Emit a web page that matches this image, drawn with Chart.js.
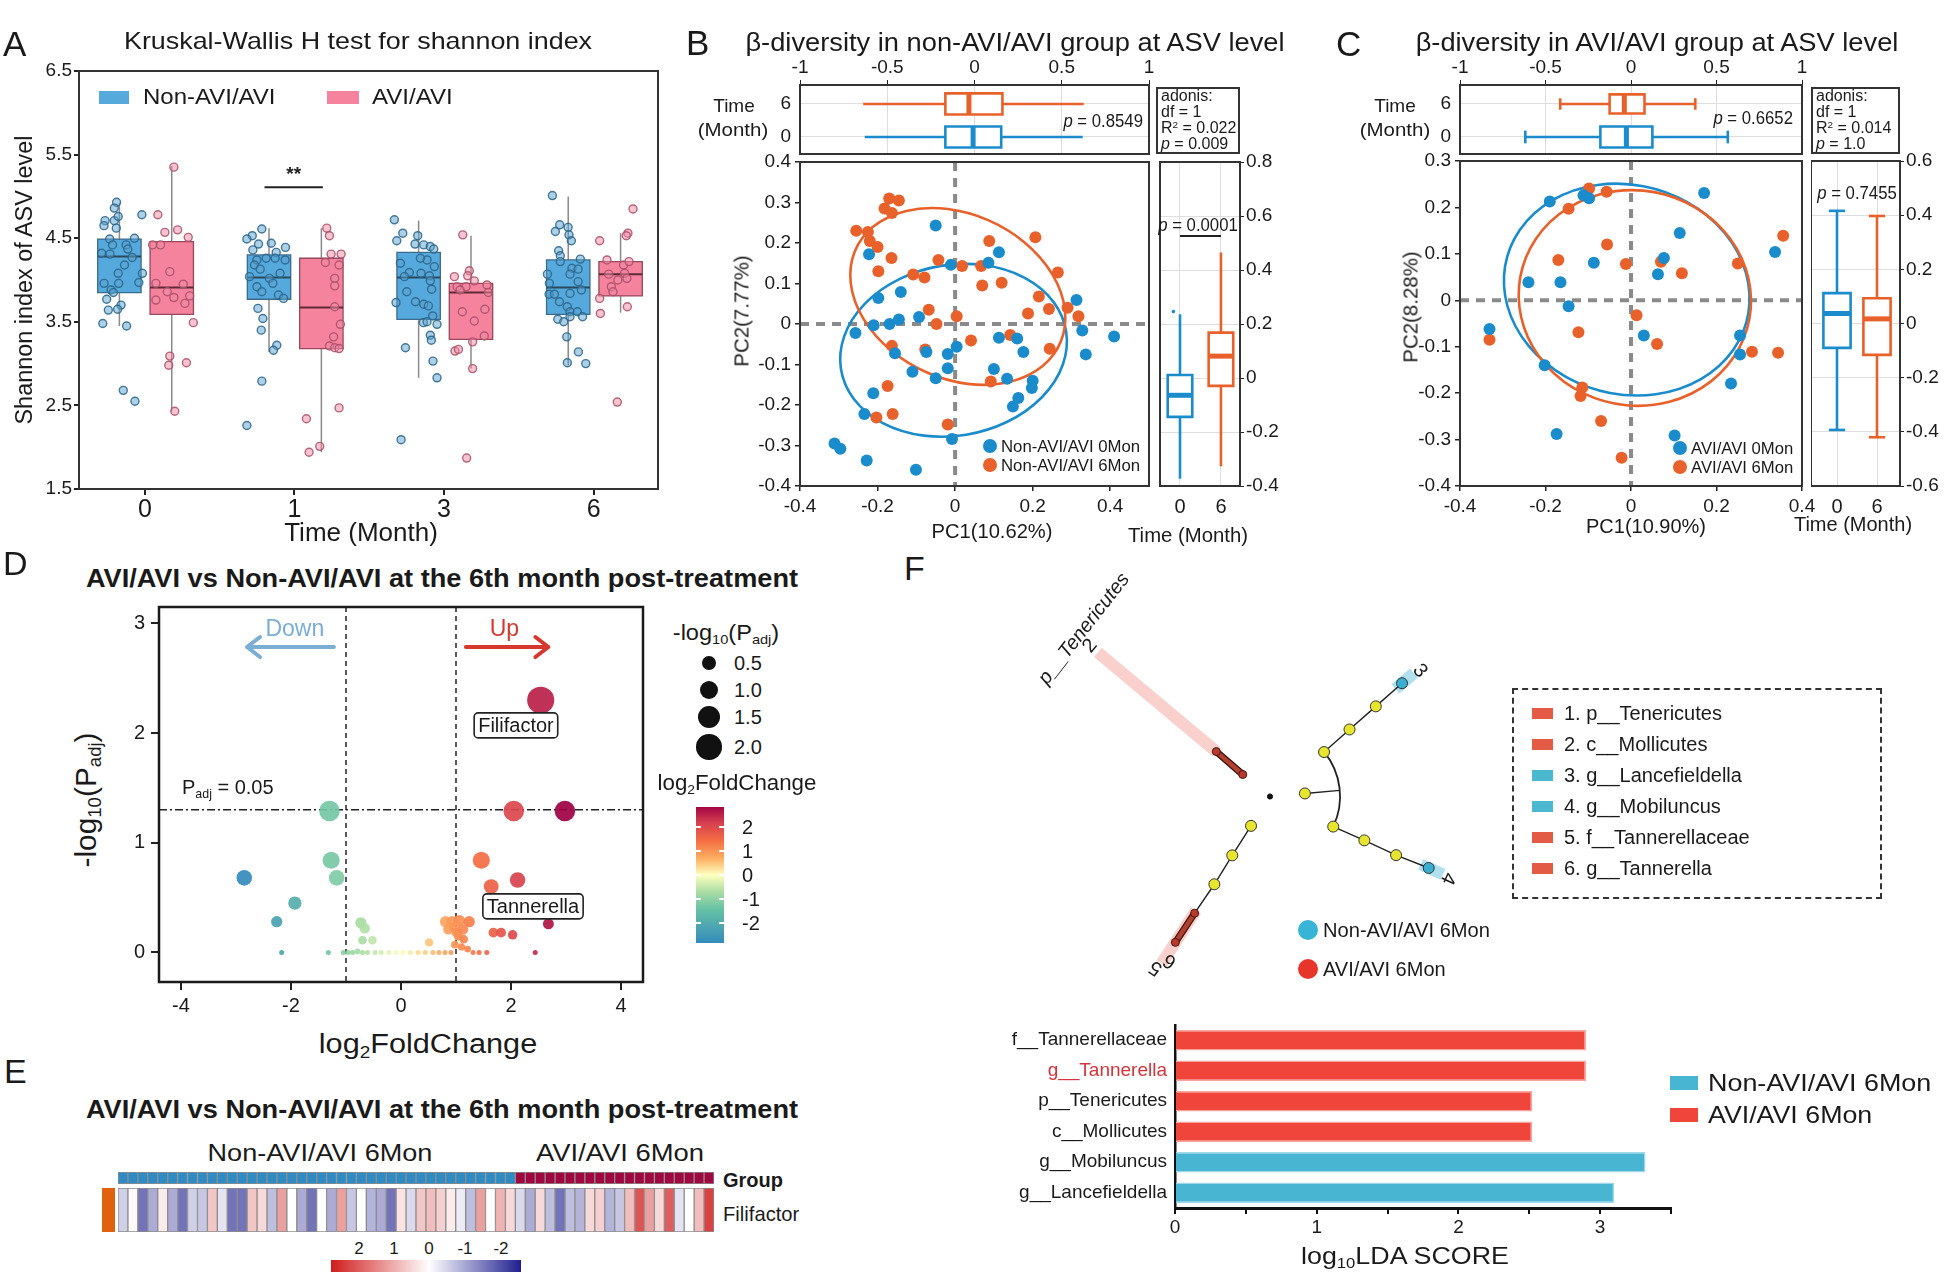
<!DOCTYPE html>
<html>
<head>
<meta charset="utf-8">
<script src="https://cdn.jsdelivr.net/npm/chart.js@4.4.1/dist/chart.umd.min.js"></script>
<style>
  body { margin: 0; width: 1948px; height: 1288px; position: relative; overflow: hidden; background: #fff;
         font-family: "Liberation Sans", Arial, sans-serif; color: #1a1a1a; }
  canvas { position: absolute; }
  .t { position: absolute; white-space: nowrap; line-height: 1; }
  .t sub { font-size: 0.62em; vertical-align: -0.3em; line-height: 0; }
  .t sup { font-size: 0.62em; vertical-align: 0.55em; line-height: 0; }
  .sq { position: absolute; box-sizing: border-box; }
</style>
</head>
<body>
<script>
// ---------------- A: Shannon index ----------------
const aMonths = ['0', '1', '3', '6'];
const aYTicks = [1.5, 2.5, 3.5, 4.5, 5.5, 6.5];
// [lower whisker, Q1, median, Q3, upper whisker] per month
const aNonBox = [[3.45, 3.85, 4.28, 4.49, 4.92], [3.14, 3.77, 4.03, 4.30, 4.62], [2.83, 3.53, 4.03, 4.33, 4.71], [2.98, 3.59, 3.91, 4.24, 5.00]];
const aAviBox = [[2.43, 3.59, 3.91, 4.46, 5.36], [1.94, 3.18, 3.67, 4.26, 4.62], [2.94, 3.29, 3.85, 3.96, 4.53], [3.61, 3.81, 4.07, 4.22, 4.56]];
const aNonPts = [
  [-0.189,4.93],[-0.204,4.86],[-0.266,4.71],[-0.204,4.71],[-0.178,4.76],[-0.273,4.65],[-0.191,4.62],[-0.02,4.78],[-0.235,4.49],[-0.069,4.5],[-0.125,4.42],[-0.216,4.42],[-0.289,4.32],[-0.233,4.31],[-0.114,4.37],[-0.085,4.27],[-0.136,4.18],[-0.016,4.08],[-0.178,4.08],[-0.272,3.96],[-0.175,3.96],[-0.04,3.97],[-0.225,3.88],[-0.21,3.85],[-0.255,3.77],[-0.159,3.70],[-0.182,3.65],[-0.244,3.64],[-0.281,3.48],[-0.122,3.45],[-0.144,2.68],[-0.066,2.55],
  [0.782,4.61],[0.718,4.53],[0.682,4.49],[0.76,4.43],[0.845,4.44],[0.94,4.39],[0.722,4.36],[0.878,4.33],[0.749,4.24],[0.811,4.26],[0.871,4.26],[0.938,4.24],[0.733,4.18],[0.771,4.13],[0.904,4.08],[0.7,4.04],[0.833,4.02],[0.856,3.96],[0.749,3.92],[0.782,3.86],[0.893,3.82],[0.927,3.78],[0.756,3.66],[0.789,3.54],[0.778,3.4],[0.882,3.22],[0.86,3.16],[0.782,2.79],[0.682,2.26],
  [1.668,4.72],[1.724,4.56],[1.684,4.47],[1.824,4.53],[1.806,4.43],[1.864,4.42],[1.908,4.4],[1.931,4.37],[1.886,4.24],[1.842,4.26],[1.708,4.2],[1.935,4.16],[1.768,4.09],[1.735,4.04],[1.846,4.08],[1.902,4.05],[1.908,3.99],[1.917,3.89],[1.751,3.86],[1.809,3.74],[1.679,3.73],[1.864,3.71],[1.895,3.69],[1.924,3.57],[1.862,3.49],[1.886,3.5],[1.953,3.47],[1.908,3.34],[1.915,3.28],[1.742,3.19],[1.926,3.03],[1.953,2.83],[1.713,2.09],
  [2.724,5.01],[2.773,4.66],[2.829,4.63],[2.744,4.58],[2.835,4.54],[2.851,4.47],[2.766,4.35],[2.777,4.29],[2.911,4.25],[2.777,4.22],[2.855,4.14],[2.896,4.13],[2.691,4.07],[2.842,4.07],[2.704,3.96],[2.896,3.98],[2.918,3.88],[2.702,3.83],[2.738,3.83],[2.842,3.84],[2.771,3.74],[2.824,3.68],[2.842,3.62],[2.891,3.62],[2.926,3.56],[2.76,3.53],[2.8,3.5],[2.842,3.56],[2.82,3.32],[2.898,3.14],[2.824,3.01],[2.947,3.0]
];
const aAviPts = [
  [0.194,5.35],[0.087,4.78],[0.134,4.57],[0.219,4.6],[0.29,4.51],[0.052,4.42],[0.105,4.42],[0.167,4.1],[0.074,3.96],[0.257,3.95],[0.15,3.86],[0.194,3.79],[0.3,3.81],[0.074,3.76],[0.268,3.72],[0.324,3.49],[0.167,3.09],[0.16,2.98],[0.278,3.01],[0.2,2.43],
  [1.216,4.62],[1.234,4.53],[1.312,4.31],[1.245,4.31],[1.207,4.21],[1.298,4.18],[1.269,4.02],[1.269,3.93],[1.269,3.68],[1.307,3.47],[1.262,3.32],[1.234,3.21],[1.269,3.19],[1.298,3.18],[1.298,2.47],[1.08,2.34],[1.169,2.01],[1.098,1.94],
  [2.125,4.54],[2.169,4.11],[2.158,4.05],[2.069,4.04],[2.202,3.99],[2.087,3.92],[2.147,3.92],[2.287,3.94],[2.296,3.85],[2.107,3.88],[2.122,3.62],[2.273,3.65],[2.202,3.51],[2.269,3.33],[2.191,3.26],[2.073,3.15],[2.096,3.17],[2.191,2.94],[2.151,1.87],
  [3.263,4.85],[3.229,4.56],[3.218,4.53],[3.04,4.47],[3.089,4.24],[3.2,4.18],[3.236,4.22],[3.1,4.07],[3.207,4.08],[3.162,4.0],[3.222,4.02],[3.118,3.92],[3.129,3.86],[3.04,3.78],[3.045,3.6],[3.225,3.68],[3.158,2.54]
];
const aSigBar = [0.80, 1.19, 5.11];   // from, to, height of the ** bracket

// ---------------- B / C: beta diversity ----------------
const timeLabels = ['0', '6'];
const topTicks = [-1, -0.5, 0, 0.5, 1];
const bTop0 = [-0.629, -0.167, -0.008, 0.153, 0.62];
const bTop6 = [-0.638, -0.167, -0.032, 0.16, 0.626];
const bSide0 = [-0.373, -0.144, -0.064, 0.011, 0.236];
const bSide6 = [-0.327, -0.029, 0.081, 0.168, 0.465];
const bOutliers = [[-0.16, 0.246]];
const bEll0 = [-0.004, -0.065, 0.294, 0.211, 8.9];   // cx, cy, a, b, angle
const bEll6 = [0.007, 0.068, 0.288, 0.204, -22.5];
const bPts0 = [[-0.05,0.243],[-0.222,0.172],[0.113,0.177],[-0.011,0.146],[0.086,0.151],[-0.198,0.064],[-0.14,0.079],[0.313,0.059],[-0.093,0.017],[-0.145,0.011],[-0.169,0.0],[-0.21,-0.003],[-0.257,-0.022],[0.328,-0.016],[0.41,-0.031],[0.113,-0.034],[0.16,-0.036],[0.176,-0.069],[0.337,-0.075],[0.004,-0.056],[-0.019,-0.074],[-0.155,-0.072],[-0.074,-0.069],[-0.019,-0.109],[0.1,-0.111],[-0.11,-0.118],[-0.05,-0.134],[0.134,-0.135],[0.2,-0.14],[0.198,-0.158],[-0.211,-0.171],[0.163,-0.183],[0.149,-0.204],[-0.234,-0.222],[-0.008,-0.284],[-0.311,-0.295],[-0.296,-0.308],[-0.228,-0.337],[-0.101,-0.36]];
const bPts6 = [[-0.17,0.31],[-0.145,0.305],[-0.182,0.285],[-0.163,0.274],[-0.255,0.23],[-0.225,0.227],[-0.22,0.205],[-0.2,0.19],[-0.164,0.163],[-0.198,0.13],[-0.108,0.122],[-0.079,0.115],[-0.043,0.158],[0.018,0.143],[0.067,0.143],[0.088,0.205],[0.207,0.214],[0.07,0.095],[0.12,0.102],[0.265,0.127],[0.216,0.068],[0.242,0.037],[0.188,0.026],[0.29,0.04],[0.318,0.019],[-0.068,0.035],[0.004,0.019],[-0.048,0.0],[0.041,-0.041],[0.142,-0.027],[-0.163,-0.054],[-0.077,-0.063],[0.244,-0.061],[0.092,-0.142],[-0.174,-0.153],[-0.161,-0.222],[-0.203,-0.231],[-0.019,-0.248]];

const cTop0 = [-0.618, -0.179, -0.027, 0.125, 0.566];
const cTop6 = [-0.414, -0.125, -0.039, 0.079, 0.376];
const cSide0 = [-0.393, -0.09, 0.037, 0.112, 0.416];
const cSide6 = [-0.42, -0.116, 0.017, 0.093, 0.397];
const cEll0 = [-0.01, 0.023, 0.289, 0.226, -10];
const cEll6 = [0.009, 0.005, 0.272, 0.232, -5];
const cPts0 = [[0.171,0.231],[-0.19,0.213],[-0.111,0.226],[-0.098,0.22],[0.114,0.145],[0.337,0.104],[-0.087,0.081],[0.077,0.091],[0.063,0.056],[-0.24,0.039],[-0.165,0.039],[-0.146,-0.013],[-0.331,-0.062],[0.03,-0.076],[0.255,-0.076],[0.255,-0.117],[-0.202,-0.14],[0.234,-0.179],[-0.174,-0.288],[0.102,-0.291]];
const cPts6 = [[-0.098,0.241],[-0.057,0.234],[-0.146,0.197],[0.356,0.139],[-0.056,0.12],[-0.17,0.087],[-0.012,0.078],[0.07,0.083],[0.119,0.058],[0.25,0.079],[0.013,-0.032],[-0.123,-0.069],[0.061,-0.094],[-0.331,-0.085],[0.283,-0.111],[0.344,-0.113],[-0.114,-0.188],[-0.118,-0.206],[-0.07,-0.26],[-0.022,-0.339]];

// ---------------- D: volcano ----------------
const dXTicks = [-4, -2, 0, 2, 4];
const dYTicks = [0, 1, 2, 3];
const dFcCut = [-1, 1];
const dPCut = 1.301;
// [log2FoldChange, -log10(Padj)]
const dPts = [
  [2.54,2.30],[-1.30,1.29],[2.05,1.29],[2.98,1.29],
  [-1.27,0.84],[-1.17,0.68],[-2.85,0.68],[-1.93,0.45],[-2.26,0.28],
  [1.46,0.84],[2.12,0.66],[1.64,0.60],[2.68,0.26],[1.68,0.18],[1.82,0.18],[2.03,0.16],[2.44,0.0],
  [-2.17,0.0],[-1.32,0.0],[-1.05,0.0],
  [-0.73,0.27],[-0.66,0.22],[-0.70,0.11],[-0.52,0.11],
  [-0.96,0.0],[-0.88,0.0],[-0.79,0.01],[-0.70,0.0],[-0.61,0.0],[-0.47,0.0],[-0.36,0.0],[-0.22,0.0],[-0.09,0.0],[0.04,0.0],[0.17,0.0],[0.31,0.0],[0.44,0.0],[0.58,0.0],[0.69,0.0],[0.8,0.0],[0.91,0.0],
  [0.51,0.09],[0.81,0.28],[0.93,0.28],[1.06,0.29],[1.24,0.28],[0.86,0.21],[0.97,0.23],[1.04,0.15],[1.14,0.12],[0.98,0.07],[1.10,0.05],[1.21,0.03],[1.31,0.0],[1.42,0.0],[1.56,0.0],[1.01,0.18],[1.13,0.21]
];
const dLabels = [['Filifactor', 2.09, 2.07], ['Tannerella', 2.40, 0.42]];
const dSizeLegend = [0.5, 1.0, 1.5, 2.0];
const dColorTicks = [2, 1, 0, -1, -2];

// ---------------- E: heatmap ----------------
const eGroupSizes = [40, 20];
const eFili = [-0.5,0.05,-1.5,-0.9,0.2,-0.9,-1.5,-0.5,-0.6,0.6,-0.3,-1.5,-1.5,0.6,0.4,-0.7,1.0,0,-0.9,-1.5,0,-0.9,1.0,-0.6,0,-0.8,-0.9,-1.5,0.3,-0.4,0.6,0.7,0.5,0.2,-0.2,-0.7,1.0,0,0.8,0.4,
               -0.4,-0.9,0.4,-0.7,-1.5,-0.7,-0.8,0.4,0.5,-0.8,-0.6,0.7,1.8,1.0,0.4,1.7,-0.3,0,0.7,2.0];
const eScaleTicks = [2, 1, 0, -1, -2];

// ---------------- F: cladogram + LDA ----------------
const cladeRadius = [0, 36, 72, 107, 143, 179];
// [taxonomic level, angle (deg), enriched in]
const cladeNodes = [
  [1, 141, 'AVI'], [2, 140, 'AVI'],
  [1, 5, ''], [2, 39.5, ''], [3, 40.2, ''], [4, 40.5, ''], [5, 40.7, 'Non'],
  [2, -25.5, ''], [3, -25, ''], [4, -25, ''], [5, -24.3, 'Non'],
  [1, -122.8, ''], [2, -122.6, ''], [3, -122.3, ''], [4, -122.8, 'AVI'], [5, -122.9, 'AVI']
];
const cladePaths = [[0, 1], [3, 4, 5, 6], [7, 8, 9, 10], [11, 12, 13, 14, 15]];
const cladeArc = [72, 39.5, -25.5];
const cladeShade = [[140, 72, 231, 'AVI'], [40.7, 170, 195, 'Non'], [-24.3, 170, 195, 'Non'], [-122.9, 140, 205, 'AVI']];
const cladeLegend = ['1. p__Tenericutes', '2. c__Mollicutes', '3. g__Lancefieldella', '4. g__Mobiluncus', '5. f__Tannerellaceae', '6. g__Tannerella'];
const cladeLegendGroup = ['AVI', 'AVI', 'Non', 'Non', 'AVI', 'AVI'];
const ldaNames = ['f__Tannerellaceae', 'g__Tannerella', 'p__Tenericutes', 'c__Mollicutes', 'g__Mobiluncus', 'g__Lancefieldella'];
const ldaScores = [2.90, 2.90, 2.52, 2.52, 3.32, 3.10];
const ldaGroup = ['AVI', 'AVI', 'AVI', 'AVI', 'Non', 'Non'];
const ldaTicks = [0, 0.5, 1, 1.5, 2, 2.5, 3, 3.5];

// ---------------- helpers ----------------
Chart.defaults.font.family = '"Liberation Sans", Arial, sans-serif';
Chart.defaults.color = '#1a1a1a';
Chart.defaults.animation = false;
Chart.defaults.responsive = false;
Chart.defaults.plugins.legend.display = false;
Chart.defaults.plugins.tooltip.enabled = false;

function canvasAt(x, y, w, h) {
  const c = document.createElement('canvas');
  c.width = w; c.height = h;
  c.style.left = x + 'px'; c.style.top = y + 'px';
  c.style.width = w + 'px'; c.style.height = h + 'px';
  document.body.appendChild(c);
  return c;
}

function text(html, x, y, o = {}) {
  const d = document.createElement('div');
  d.className = 't';
  d.innerHTML = html;
  d.style.left = x + 'px';
  d.style.top = y + 'px';
  d.style.fontSize = (o.size || 20) + 'px';
  if (o.bold) d.style.fontWeight = 'bold';
  if (o.italic) d.style.fontStyle = 'italic';
  if (o.color) d.style.color = o.color;
  document.body.appendChild(d);
  const ax = o.align === 'l' ? '0' : o.align === 'r' ? '-100%' : '-50%';
  d.style.transformOrigin = o.align === 'l' ? 'left center' : o.align === 'r' ? 'right center' : 'center';
  let tf = `translate(${ax},-50%)`;
  if (o.rot) tf += ` rotate(${o.rot}deg)`;
  if (o.w) tf += ` scaleX(${(o.w / d.offsetWidth).toFixed(3)})`;
  d.style.transform = tf;
  return d;
}

function rect(x, y, w, h, style) {
  const d = document.createElement('div');
  d.className = 'sq';
  Object.assign(d.style, { left: x + 'px', top: y + 'px', width: w + 'px', height: h + 'px' }, style);
  document.body.appendChild(d);
  return d;
}
const dot = (x, y, r, color) => rect(x - r, y - r, 2 * r, 2 * r, { borderRadius: '50%', background: color });

const toXY = arr => arr.map(p => ({ x: p[0], y: p[1] }));
const fmt1 = v => (v === 0 ? '0' : v.toFixed(1));
const fit = size => s => {
  if (s.isHorizontal()) s.height = size; else s.width = size;
  s.paddingLeft = s.paddingRight = s.paddingTop = s.paddingBottom = 0;
};
const setTicks = vals => s => { s.ticks = vals.map(v => ({ value: v })); };

const framePlugin = {
  id: 'frame',
  afterDraw(chart, args, o) {
    if (!o.color) return;
    const a = chart.chartArea, ctx = chart.ctx;
    ctx.save();
    ctx.strokeStyle = o.color; ctx.lineWidth = o.width || 2;
    ctx.strokeRect(a.left, a.top, a.right - a.left, a.bottom - a.top);
    ctx.restore();
  }
};

function boxPlugin(list) {
  return {
    id: 'boxes',
    beforeDatasetsDraw(chart) {
      const ctx = chart.ctx, xs = chart.scales.x, ys = chart.scales.y;
      list.forEach(b => {
        const val = v => (b.horiz ? xs : ys).getPixelForValue(v);
        const pos = v => (b.horiz ? ys : xs).getPixelForValue(v);
        const seg = (a1, p1, a2, p2) => {
          ctx.beginPath();
          if (b.horiz) { ctx.moveTo(a1, p1); ctx.lineTo(a2, p2); } else { ctx.moveTo(p1, a1); ctx.lineTo(p2, a2); }
          ctx.stroke();
        };
        const [lo, q1, md, q3, hi] = b.stats.map(val);
        const c = pos(b.pos), e1 = pos(b.pos - b.hw), e2 = pos(b.pos + b.hw);
        ctx.save();
        ctx.strokeStyle = b.wc; ctx.lineWidth = b.wl;
        seg(lo, c, q1, c); seg(q3, c, hi, c);
        if (b.cap) { const k = (e2 - e1) * 0.3; seg(lo, c - k, lo, c + k); seg(hi, c - k, hi, c + k); }
        ctx.fillStyle = b.fill; ctx.strokeStyle = b.stroke; ctx.lineWidth = b.bl;
        ctx.beginPath();
        if (b.horiz) ctx.rect(q1, e1, q3 - q1, e2 - e1); else ctx.rect(e1, q3, e2 - e1, q1 - q3);
        ctx.fill(); ctx.stroke();
        ctx.strokeStyle = b.mc; ctx.lineWidth = b.ml;
        seg(md, e1, md, e2);
        ctx.restore();
      });
    }
  };
}

function segPlugin(list, label) {
  return {
    id: 'brackets',
    afterDatasetsDraw(chart) {
      const { ctx, scales: { x, y } } = chart;
      ctx.save();
      ctx.strokeStyle = '#222'; ctx.lineWidth = 2;
      list.forEach(([x1, x2, yv]) => {
        const py = y.getPixelForValue(yv);
        ctx.beginPath(); ctx.moveTo(x.getPixelForValue(x1), py); ctx.lineTo(x.getPixelForValue(x2), py); ctx.stroke();
        if (label) {
          ctx.fillStyle = '#222'; ctx.font = 'bold 19px "Liberation Sans", Arial';
          ctx.textAlign = 'center'; ctx.textBaseline = 'bottom';
          ctx.fillText(label, x.getPixelForValue((x1 + x2) / 2), py - 3);
        }
      });
      ctx.restore();
    }
  };
}

const zeroLines = {
  id: 'zeroLines',
  beforeDatasetsDraw(chart) {
    const { ctx, chartArea: a, scales: { x, y } } = chart;
    const px = x.getPixelForValue(0), py = y.getPixelForValue(0);
    ctx.save();
    ctx.strokeStyle = '#8a8a8a'; ctx.lineWidth = 4; ctx.setLineDash([9, 7]);
    ctx.beginPath();
    ctx.moveTo(px, a.top); ctx.lineTo(px, a.bottom);
    ctx.moveTo(a.left, py); ctx.lineTo(a.right, py);
    ctx.stroke();
    ctx.restore();
  }
};

function ellipsePlugin(list) {
  return {
    id: 'ellipses',
    beforeDatasetsDraw(chart) {
      const { ctx, scales: { x, y } } = chart;
      const kx = x.getPixelForValue(1) - x.getPixelForValue(0);
      const ky = y.getPixelForValue(0) - y.getPixelForValue(1);
      list.forEach(([e, color]) => {
        ctx.save();
        ctx.translate(x.getPixelForValue(e[0]), y.getPixelForValue(e[1]));
        ctx.scale(kx, -ky);
        ctx.rotate(e[4] * Math.PI / 180);
        ctx.beginPath();
        ctx.ellipse(0, 0, e[2], e[3], 0, 0, 2 * Math.PI);
        ctx.restore();
        ctx.save();
        ctx.strokeStyle = color; ctx.lineWidth = 2.6; ctx.stroke();
        ctx.restore();
      });
    }
  };
}

const specStops = [[-2.9, [50,136,189]], [-1.45, [102,194,165]], [-0.7, [171,221,164]], [0, [255,255,191]],
                   [0.7, [253,174,97]], [1.45, [244,109,67]], [2.2, [213,62,79]], [2.9, [158,1,66]]];
function spectral(v, a = 1) {
  v = Math.max(-2.9, Math.min(2.9, v));
  let i = 0;
  while (i < specStops.length - 2 && v > specStops[i + 1][0]) i++;
  const [v0, c0] = specStops[i], [v1, c1] = specStops[i + 1];
  const t = (v - v0) / (v1 - v0);
  const c = c0.map((k, j) => Math.round(k + (c1[j] - k) * t));
  return `rgba(${c[0]},${c[1]},${c[2]},${a})`;
}
const dSize = v => 2.5 + 6.7 * Math.pow(v, 0.6);

function heatColor(v) {
  const t = Math.min(1, Math.abs(v) / 2.4);
  const end = v < 0 ? [31, 31, 143] : [208, 28, 28];
  return `rgb(${end.map(k => Math.round(255 + (k - 255) * t))})`;
}

const axisGrid = { drawOnChartArea: false, color: '#222', tickLength: 5, lineWidth: 1.5 };

// ---------------- Panel A ----------------
const aBoxList = [];
aNonBox.forEach((s, i) => aBoxList.push({ pos: i - 0.17, hw: 0.145, stats: s, fill: '#56a9dc', stroke: '#3b6c8a', bl: 1.3,
  wc: '#8a8a8a', wl: 1.5, mc: '#294a5e', ml: 2 }));
aAviBox.forEach((s, i) => aBoxList.push({ pos: i + 0.18, hw: 0.145, stats: s, fill: '#f5839e', stroke: '#96495c', bl: 1.3,
  wc: '#8a8a8a', wl: 1.5, mc: '#5e2a36', ml: 2 }));

new Chart(canvasAt(0, 53, 666, 480), {
  type: 'scatter',
  data: { datasets: [
    { data: toXY(aNonPts), pointRadius: 4, pointBackgroundColor: 'rgba(92,162,205,0.5)', pointBorderColor: 'rgba(40,100,138,0.85)', pointBorderWidth: 1.4 },
    { data: toXY(aAviPts), pointRadius: 4, pointBackgroundColor: 'rgba(240,140,165,0.5)', pointBorderColor: 'rgba(172,78,104,0.85)', pointBorderWidth: 1.4 }
  ] },
  options: {
    layout: { padding: { top: 18, right: 8, left: 0, bottom: 0 } },
    scales: {
      x: { type: 'linear', min: -0.44, max: 3.43, afterFit: fit(44), afterBuildTicks: setTicks([0, 1, 2, 3]),
           ticks: { callback: (v, i) => aMonths[i], font: { size: 25 }, padding: 0 },
           grid: { ...axisGrid, tickLength: 6, lineWidth: 2 }, border: { display: false } },
      y: { min: 1.5, max: 6.5, afterFit: fit(79), afterBuildTicks: setTicks(aYTicks),
           ticks: { callback: v => v.toFixed(1), font: { size: 19 }, padding: 2 },
           grid: { ...axisGrid, lineWidth: 2 }, border: { display: false } }
    },
    plugins: { frame: { color: '#333', width: 2 } }
  },
  plugins: [framePlugin, boxPlugin(aBoxList), segPlugin([aSigBar], '**')]
});

text('A', 3, 43, { size: 35, align: 'l' });
text('Kruskal-Wallis H test for shannon index', 358, 41, { size: 24, w: 468 });
text('Time (Month)', 361, 532, { size: 26, w: 154 });
text('Shannon index of ASV level', 24, 280, { size: 23, rot: -90, w: 289 });
rect(99, 91, 30, 13, { background: '#56a9dc' });
text('Non-AVI/AVI', 143, 97, { size: 22, align: 'l', w: 132 });
rect(327, 91, 32, 13, { background: '#f5839e' });
text('AVI/AVI', 372, 97, { size: 22, align: 'l', w: 81 });

// ---------------- Panels B and C ----------------
function betaPanel(P) {
  const blue = '#1b8ccb', orange = '#e8612b', light = '#dedede';
  const boxStyle = color => ({ fill: '#fff', stroke: color, bl: 2.6, wc: color, wl: 2.6, mc: color, ml: 5, cap: P.caps });
  // PC1 boxplots (top)
  new Chart(canvasAt(P.x0 - 50, 55, P.x1 - P.x0 + 64, 103), {
    type: 'scatter',
    data: { datasets: [] },
    options: {
      layout: { padding: { top: 0, right: 14, bottom: 4, left: 0 } },
      scales: {
        x: { position: 'top', min: -1, max: 1, afterFit: fit(30), afterBuildTicks: setTicks(topTicks),
             ticks: { font: { size: 19 }, padding: 1, callback: v => String(v) },
             grid: { color: light, tickColor: '#222', tickLength: 5 }, border: { display: false } },
        y: { min: -0.515, max: 1.575, afterFit: fit(50), afterBuildTicks: setTicks([0, 1]),
             ticks: { font: { size: 19 }, padding: 9, callback: (v, i) => timeLabels[i] },
             grid: { color: light, drawTicks: false }, border: { display: false } }
      },
      plugins: { frame: { color: '#333', width: 2 } }
    },
    plugins: [framePlugin, boxPlugin([
      Object.assign({ horiz: true, pos: 1, hw: P.topHw[1], stats: P.top6 }, boxStyle(orange)),
      Object.assign({ horiz: true, pos: 0, hw: P.topHw[0], stats: P.top0 }, boxStyle(blue))
    ])]
  });
  // PCoA scatter
  new Chart(canvasAt(P.x0 - 50, P.y0 - 14, P.x1 - P.x0 + 64, P.y1 - P.y0 + 50), {
    type: 'scatter',
    data: { datasets: [
      { data: toXY(P.pts0), pointRadius: 6, pointBackgroundColor: blue, pointBorderWidth: 0 },
      { data: toXY(P.pts6), pointRadius: 6, pointBackgroundColor: orange, pointBorderWidth: 0 }
    ] },
    options: {
      layout: { padding: { top: 14, right: 14, left: 0, bottom: 0 } },
      scales: {
        x: { min: P.xr[0], max: P.xr[1], afterFit: fit(36), afterBuildTicks: setTicks(P.xt),
             ticks: { font: { size: 19 }, padding: 4, callback: fmt1 }, grid: axisGrid, border: { display: false } },
        y: { min: P.yr[0], max: P.yr[1], afterFit: fit(50), afterBuildTicks: setTicks(P.yt),
             ticks: { font: { size: 19 }, padding: 4, callback: fmt1 }, grid: axisGrid, border: { display: false } }
      },
      plugins: { frame: { color: '#333', width: 2 } }
    },
    plugins: [framePlugin, zeroLines, ellipsePlugin([[P.ell0, blue], [P.ell6, orange]])]
  });
  // PC2 boxplots (right)
  new Chart(canvasAt(P.s0, P.y0 - 14, P.s1 - P.s0 + 48, P.y1 - P.y0 + 50), {
    type: 'scatter',
    data: { datasets: [{ data: toXY(P.outliers), pointRadius: 1.8, pointBackgroundColor: blue, pointBorderWidth: 0 }] },
    options: {
      layout: { padding: { top: 14, right: 0, left: 0, bottom: 0 } },
      scales: {
        x: { min: P.sx[0], max: P.sx[1], afterFit: fit(36), afterBuildTicks: setTicks([0, 1]),
             ticks: { font: { size: 20 }, padding: 9, callback: (v, i) => timeLabels[i] },
             grid: { color: light, drawTicks: false }, border: { display: false } },
        y: { position: 'right', min: P.sy[0], max: P.sy[1], afterFit: fit(48), afterBuildTicks: setTicks(P.st),
             ticks: { font: { size: 19 }, padding: 2, callback: fmt1 },
             grid: { color: light, tickColor: '#222', tickLength: 4 }, border: { display: false } }
      },
      plugins: { frame: { color: '#333', width: 2 } }
    },
    plugins: [framePlugin, boxPlugin([
      Object.assign({ pos: 0, hw: P.sideHw, stats: P.side0 }, boxStyle(blue)),
      Object.assign({ pos: 1, hw: P.sideHw, stats: P.side6 }, boxStyle(orange))
    ]), segPlugin(P.bracket)]
  });
  // adonis box
  rect(P.s0, 87, P.s1 - P.s0, 67, { border: '2px solid #333' });
  P.adonis.forEach((s, i) => text(s, P.s0 + 5, 96 + i * 16, { size: 16, align: 'l' }));
  // legend inside scatter
  dot(P.leg[0], P.leg[1], 7, blue);
  dot(P.leg[0], P.leg[1] + 19, 7, orange);
  text(P.legText[0], P.leg[0] + 11, P.leg[1], { size: 17, align: 'l', w: P.legW });
  text(P.legText[1], P.leg[0] + 11, P.leg[1] + 19, { size: 17, align: 'l', w: P.legW });
}

betaPanel({
  x0: 800, x1: 1149, y0: 162, y1: 486, s0: 1156, s1: 1240,
  xr: [-0.4, 0.5], xt: [-0.4, -0.2, 0, 0.2, 0.4], yr: [-0.4, 0.4], yt: [-0.4, -0.3, -0.2, -0.1, 0, 0.1, 0.2, 0.3, 0.4],
  sx: [-0.488, 1.465], sy: [-0.4, 0.8], st: [-0.4, -0.2, 0, 0.2, 0.4, 0.6, 0.8], sideHw: 0.3,
  top0: bTop0, top6: bTop6, topHw: [0.32, 0.32], caps: false, side0: bSide0, side6: bSide6,
  pts0: bPts0, pts6: bPts6, ell0: bEll0, ell6: bEll6, outliers: bOutliers, bracket: [[0, 1, 0.526]],
  adonis: ['adonis:', 'df = 1', 'R<sup>2</sup> = 0.022', '<i>p</i> = 0.009'],
  leg: [990, 446], legText: ['Non-AVI/AVI 0Mon', 'Non-AVI/AVI 6Mon'], legW: 139
});
text('B', 686, 42, { size: 35, align: 'l' });
text('β-diversity in non-AVI/AVI group at ASV level', 1015, 42, { size: 25, w: 539 });
text('Time', 734, 105, { size: 19 });
text('(Month)', 733, 129, { size: 19, w: 70 });
text('<i>p</i> = 0.8549', 1143, 121, { size: 18, align: 'r', w: 80 });
text('PC1(10.62%)', 992, 530, { size: 21, w: 121 });
text('PC2(7.77%)', 741, 311, { size: 21, rot: -90, w: 111 });
text('<i>p</i> = 0.0001', 1198, 225, { size: 18, w: 80 });
text('Time (Month)', 1188, 534, { size: 21, w: 120 });

betaPanel({
  x0: 1460, x1: 1802, y0: 161, y1: 486, s0: 1811, s1: 1900,
  xr: [-0.4, 0.4], xt: [-0.4, -0.2, 0, 0.2, 0.4], yr: [-0.4, 0.3], yt: [-0.4, -0.3, -0.2, -0.1, 0, 0.1, 0.2, 0.3],
  sx: [-0.65, 1.575], sy: [-0.6, 0.6], st: [-0.6, -0.4, -0.2, 0, 0.2, 0.4, 0.6], sideHw: 0.34,
  top0: cTop0, top6: cTop6, topHw: [0.32, 0.29], caps: true, side0: cSide0, side6: cSide6,
  pts0: cPts0, pts6: cPts6, ell0: cEll0, ell6: cEll6, outliers: [], bracket: [],
  adonis: ['adonis:', 'df = 1', 'R<sup>2</sup> = 0.014', '<i>p</i> = 1.0'],
  leg: [1680, 448], legText: ['AVI/AVI 0Mon', 'AVI/AVI 6Mon'], legW: 102
});
text('C', 1336, 43, { size: 35, align: 'l' });
text('β-diversity in AVI/AVI group at ASV level', 1657, 42, { size: 25, w: 483 });
text('Time', 1395, 105, { size: 19 });
text('(Month)', 1395, 129, { size: 19, w: 70 });
text('<i>p</i> = 0.6652', 1793, 118, { size: 18, align: 'r', w: 80 });
text('PC1(10.90%)', 1646, 525, { size: 21, w: 120 });
text('PC2(8.28%)', 1410, 307, { size: 21, rot: -90, w: 111 });
text('<i>p</i> = 0.7455', 1857, 193, { size: 18, w: 80 });
text('Time (Month)', 1853, 523, { size: 21, w: 118 });

// ---------------- Panel D ----------------
const volcanoPlugin = {
  id: 'volcano',
  beforeDatasetsDraw(chart) {
    const { ctx, chartArea: a, scales: { x, y } } = chart;
    ctx.save();
    ctx.strokeStyle = '#222'; ctx.lineWidth = 1.5;
    ctx.setLineDash([5, 4]);
    dFcCut.forEach(v => {
      const px = x.getPixelForValue(v);
      ctx.beginPath(); ctx.moveTo(px, a.top); ctx.lineTo(px, a.bottom); ctx.stroke();
    });
    ctx.setLineDash([8, 3, 2, 3]);
    const py = y.getPixelForValue(dPCut);
    ctx.beginPath(); ctx.moveTo(a.left, py); ctx.lineTo(a.right, py); ctx.stroke();
    ctx.restore();
  },
  afterDatasetsDraw(chart) {
    const { ctx, scales: { x, y } } = chart;
    ctx.save();
    // direction arrows
    [[-1.22, -2.8, '#7aaed4', 'Down', -1.93], [1.18, 2.68, '#d5382e', 'Up', 1.88]].forEach(([x1, x2, color, label, lx]) => {
      const p1 = x.getPixelForValue(x1), p2 = x.getPixelForValue(x2), py = y.getPixelForValue(2.785);
      const d = Math.sign(p2 - p1);
      ctx.strokeStyle = color; ctx.lineWidth = 4; ctx.lineCap = 'round'; ctx.lineJoin = 'round';
      ctx.beginPath(); ctx.moveTo(p1, py); ctx.lineTo(p2, py);
      ctx.moveTo(p2 - d * 13, py - 10); ctx.lineTo(p2, py); ctx.lineTo(p2 - d * 13, py + 10);
      ctx.stroke();
      ctx.fillStyle = color; ctx.font = '23px "Liberation Sans", Arial';
      ctx.textAlign = 'center'; ctx.textBaseline = 'middle';
      ctx.fillText(label, x.getPixelForValue(lx), y.getPixelForValue(2.94));
    });
    // labelled genera
    ctx.font = '20px "Liberation Sans", Arial';
    dLabels.forEach(([s, lx, ly]) => {
      const cx = x.getPixelForValue(lx), cy = y.getPixelForValue(ly);
      const w = ctx.measureText(s).width + 8, h = 25;
      ctx.fillStyle = '#fff'; ctx.strokeStyle = '#222'; ctx.lineWidth = 1.6;
      ctx.beginPath(); ctx.roundRect(cx - w / 2, cy - h / 2, w, h, 4); ctx.fill(); ctx.stroke();
      ctx.fillStyle = '#1a1a1a'; ctx.textAlign = 'center'; ctx.textBaseline = 'middle';
      ctx.fillText(s, cx, cy + 1);
    });
    ctx.restore();
  }
};

new Chart(canvasAt(109, 593, 550, 429), {
  type: 'scatter',
  data: { datasets: [{
    data: toXY(dPts),
    pointRadius: dPts.map(p => dSize(p[1])),
    pointBackgroundColor: dPts.map(p => spectral(p[0], 0.92)),
    pointBorderWidth: 0
  }] },
  options: {
    layout: { padding: { top: 14, right: 16, left: 0, bottom: 0 } },
    scales: {
      x: { min: -4.4, max: 4.4, afterFit: fit(40), afterBuildTicks: setTicks(dXTicks),
           ticks: { font: { size: 20 }, padding: 4, callback: v => String(v) },
           grid: { ...axisGrid, tickLength: 8, lineWidth: 2 }, border: { display: false } },
      y: { min: -0.27, max: 3.15, afterFit: fit(50), afterBuildTicks: setTicks(dYTicks),
           ticks: { font: { size: 20 }, padding: 6, callback: v => String(v) },
           grid: { ...axisGrid, tickLength: 8, lineWidth: 2 }, border: { display: false } }
    },
    plugins: { frame: { color: '#1a1a1a', width: 2.5 } }
  },
  plugins: [framePlugin, volcanoPlugin]
});

text('D', 3, 563, { size: 34, align: 'l' });
text('AVI/AVI vs Non-AVI/AVI at the 6th month post-treatment', 442, 578, { size: 25, bold: true, w: 712 });
text('-log<sub>10</sub>(P<sub>adj</sub>)', 86, 800, { size: 29, rot: -90, w: 135 });
text('log<sub>2</sub>FoldChange', 428, 1044, { size: 27, w: 218 });
text('P<sub>adj</sub> = 0.05', 182, 787, { size: 20, align: 'l' });
// size legend
text('-log<sub>10</sub>(P<sub>adj</sub>)', 726, 633, { size: 22, w: 106 });
[663, 690, 717, 747].forEach((cy, i) => {
  dot(709, cy, dSize(dSizeLegend[i]), '#111');
  text(dSizeLegend[i].toFixed(1), 734, cy, { size: 20, align: 'l' });
});
// colour legend
text('log<sub>2</sub>FoldChange', 737, 783, { size: 22, w: 159 });
const barGrad = specStops.slice().reverse()
  .map(s => `rgb(${s[1]}) ${((2.85 - s[0]) / 5.7 * 100).toFixed(1)}%`).join(',');
rect(696, 807, 28, 136, { background: `linear-gradient(to bottom, ${barGrad})` });
dColorTicks.forEach(v => {
  const cy = 807 + (2.85 - v) / 5.7 * 136;
  rect(696, cy - 1, 5, 2, { background: '#fff' });
  rect(719, cy - 1, 5, 2, { background: '#fff' });
  text(String(v), 742, cy, { size: 20, align: 'l' });
});

// ---------------- Panel E ----------------
const eSamples = eFili.map((v, i) => 'S' + (i + 1));
const eGroupColors = [];
eGroupSizes.forEach((n, g) => { for (let i = 0; i < n; i++) eGroupColors.push(g === 0 ? '#2f8bc4' : '#a0063f'); });

function heatRow(y, h, colors) {
  new Chart(canvasAt(118, y, 596, h), {
    type: 'bar',
    data: { labels: eSamples, datasets: [{ data: eSamples.map(() => 1), backgroundColor: colors,
      borderColor: '#8d8d8d', borderWidth: 1, borderSkipped: false, barPercentage: 1, categoryPercentage: 1 }] },
    options: { layout: { padding: 0 }, scales: { x: { display: false }, y: { display: false, min: 0, max: 1 } } }
  });
}
heatRow(1172, 12, eGroupColors);
heatRow(1188, 44, eFili.map(heatColor));
rect(102, 1188, 13, 44, { background: '#e0620f' });

text('E', 4, 1071, { size: 34, align: 'l' });
text('AVI/AVI vs Non-AVI/AVI at the 6th month post-treatment', 442, 1109, { size: 25, bold: true, w: 712 });
text('Non-AVI/AVI 6Mon', 320, 1153, { size: 23, w: 225 });
text('AVI/AVI 6Mon', 620, 1153, { size: 23, w: 168 });
text('Group', 723, 1180, { size: 20, bold: true, align: 'l' });
text('Filifactor', 723, 1213, { size: 21, align: 'l', w: 76 });
rect(331, 1260, 190, 12, { background: 'linear-gradient(to right, #d01c1c 0%, #ffffff 51.6%, #1f1f8f 100%)' });
eScaleTicks.forEach((v, i) => text(String(v), [359, 394, 429, 465, 501][i], 1248, { size: 17 }));

// ---------------- Panel F: cladogram ----------------
const polar = (r, deg) => ({ x: r * Math.cos(deg * Math.PI / 180), y: r * Math.sin(deg * Math.PI / 180) });
const nodeXY = cladeNodes.map(n => polar(cladeRadius[n[0]], n[1]));
const shadeColor = { AVI: 'rgba(239,120,110,0.35)', Non: 'rgba(80,185,218,0.45)' };
const nodeFill = { AVI: '#b83a2c', Non: '#3aaed0', '': '#e8e52e' };
const cladeSets = [];
cladeShade.forEach(s => cladeSets.push({ data: [polar(s[1], s[0]), polar(s[2], s[0])], showLine: true,
  borderColor: shadeColor[s[3]], borderWidth: 12, borderCapStyle: 'butt', pointRadius: 0, order: 6 }));
cladePaths.forEach(p => {
  cladeSets.push({ data: p.map(i => nodeXY[i]), showLine: true, borderColor: '#222', borderWidth: 1.4, pointRadius: 0, order: 5 });
  for (let k = 0; k + 1 < p.length; k++) {
    if (cladeNodes[p[k]][2] === 'AVI' && cladeNodes[p[k + 1]][2] === 'AVI') {
      const seg = [nodeXY[p[k]], nodeXY[p[k + 1]]];
      cladeSets.push({ data: seg, showLine: true, borderColor: '#3a120c', borderWidth: 7, borderCapStyle: 'round', pointRadius: 0, order: 4 });
      cladeSets.push({ data: seg, showLine: true, borderColor: '#b04030', borderWidth: 4.5, borderCapStyle: 'round', pointRadius: 0, order: 3 });
    }
  }
});
cladeSets.push({ data: [nodeXY[2], polar(cladeArc[0], cladeNodes[2][1])], showLine: true, borderColor: '#222', borderWidth: 1.4, pointRadius: 0, order: 5 });
cladeSets.push({
  data: [{ x: 0, y: 0 }].concat(nodeXY),
  pointRadius: [2.6].concat(cladeNodes.map(n => (n[2] === 'AVI' ? 4 : 5.5))),
  pointBackgroundColor: ['#111'].concat(cladeNodes.map(n => nodeFill[n[2]])),
  pointBorderColor: ['#111'].concat(cladeNodes.map(n => (n[2] === 'AVI' ? '#4a160e' : '#333'))),
  pointBorderWidth: 1, order: 1
});
const arcPlugin = {
  id: 'arc',
  beforeDatasetsDraw(chart) {
    const { ctx, scales: { x, y } } = chart;
    const cx = x.getPixelForValue(0), cy = y.getPixelForValue(0);
    const r = x.getPixelForValue(cladeArc[0]) - cx;
    ctx.save();
    ctx.strokeStyle = '#222'; ctx.lineWidth = 1.8;
    ctx.beginPath();
    ctx.arc(cx, cy, r, -cladeArc[1] * Math.PI / 180, -cladeArc[2] * Math.PI / 180, false);
    ctx.stroke();
    ctx.restore();
  }
};
new Chart(canvasAt(1030, 560, 480, 440), {
  type: 'scatter',
  data: { datasets: cladeSets },
  options: {
    layout: { padding: 0 },
    scales: { x: { display: false, min: -240, max: 240 }, y: { display: false, min: -203, max: 237 } }
  },
  plugins: [arcPlugin]
});
const pagePt = (r, deg) => { const p = polar(r, deg); return [1270 + p.x, 797 - p.y]; };
text('F', 904, 568, { size: 34, align: 'l' });
text('p__Tenericutes', ...pagePt(252, 138), { size: 20, italic: true, rot: -52, w: 135 });
text('2', ...pagePt(236, 140), { size: 20, rot: -50 });
text('3', ...pagePt(197, 40), { size: 20, rot: 50 });
text('4', ...pagePt(197, -24.5), { size: 20, rot: 114.5 });
text('6', ...pagePt(193, -121.5), { size: 20, rot: 211.5 });
text('5', ...pagePt(207, -123.8), { size: 20, rot: 213.5 });
dot(1308, 930, 10, '#38b4d6');
dot(1308, 969, 10, '#e8352c');
text('Non-AVI/AVI 6Mon', 1323, 930, { size: 20, align: 'l', w: 167 });
text('AVI/AVI 6Mon', 1323, 969, { size: 20, align: 'l', w: 123 });
rect(1512, 688, 370, 211, { border: '2.5px dashed #333' });
cladeLegend.forEach((s, i) => {
  const cy = 713 + i * 31;
  rect(1532, cy - 5, 21, 11, { background: cladeLegendGroup[i] === 'AVI' ? '#e35b45' : '#4cb8d0' });
  text(s, 1564, cy, { size: 20, align: 'l' });
});

// ---------------- Panel F: LDA bars ----------------
const groupFill = { AVI: '#f0453b', Non: '#48b6d3' };
const groupEdge = { AVI: '#f7a49c', Non: '#9fd8e8' };
new Chart(canvasAt(1000, 1021, 681, 223), {
  type: 'bar',
  data: { labels: ldaNames, datasets: [{ data: ldaScores, backgroundColor: ldaGroup.map(g => groupFill[g]),
    borderColor: ldaGroup.map(g => groupEdge[g]), borderWidth: 1.5, barPercentage: 0.68, categoryPercentage: 1 }] },
  options: {
    indexAxis: 'y',
    layout: { padding: { top: 4, right: 10, left: 0, bottom: 0 } },
    scales: {
      x: { type: 'linear', min: 0, max: 3.5, afterFit: fit(36), afterBuildTicks: setTicks(ldaTicks),
           ticks: { font: { size: 19 }, padding: 2, callback: v => (Number.isInteger(v) ? String(v) : '') },
           grid: { drawOnChartArea: false, color: '#111', tickLength: 6, lineWidth: 2 },
           border: { display: true, color: '#111', width: 3 } },
      y: { type: 'category', afterFit: fit(175),
           ticks: { font: { size: 19 }, padding: 8, color: c => (ldaNames[c.index] === 'g__Tannerella' ? '#d3343c' : '#1a1a1a') },
           grid: { drawOnChartArea: false, drawTicks: false }, border: { display: true, color: '#111', width: 2.5 } }
    }
  }
});
text('log<sub>10</sub>LDA SCORE', 1405, 1256, { size: 24, w: 208 });
rect(1670, 1076, 28, 14, { background: groupFill.Non });
rect(1670, 1108, 28, 14, { background: groupFill.AVI });
text('Non-AVI/AVI 6Mon', 1708, 1083, { size: 24, align: 'l', w: 223 });
text('AVI/AVI 6Mon', 1708, 1115, { size: 24, align: 'l', w: 164 });
</script>
</body>
</html>
